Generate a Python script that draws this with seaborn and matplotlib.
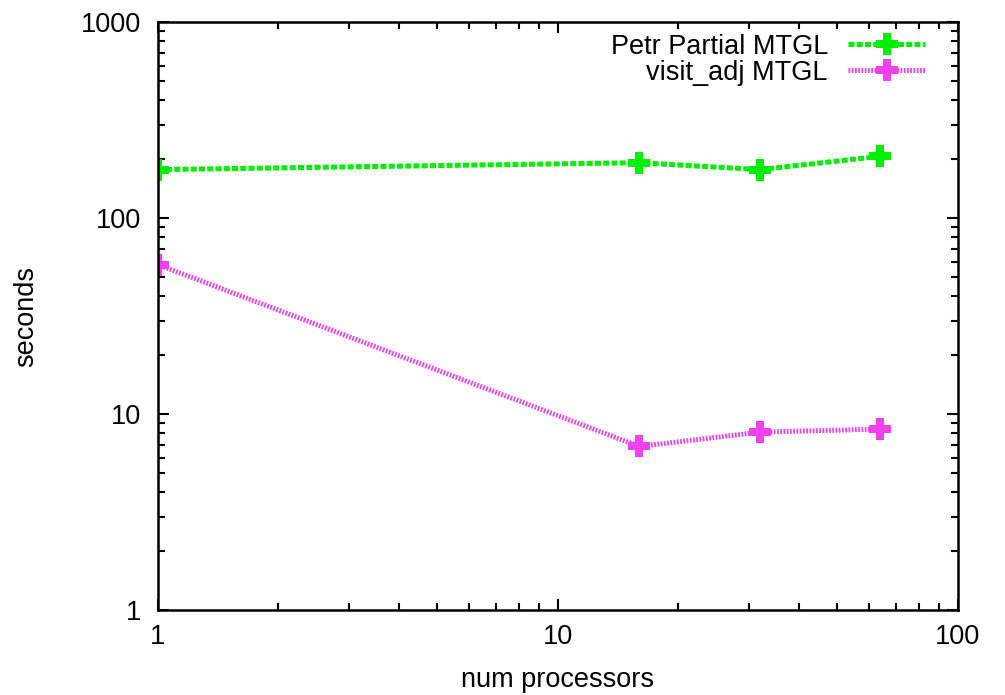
import numpy as np
import pandas as pd
import seaborn as sns
import matplotlib
matplotlib.use("Agg")
import matplotlib.pyplot as plt
from matplotlib.ticker import FuncFormatter

# values
processors = [1, 16, 32, 64]
petr_partial = [177, 192, 177, 207]
visit_adj = [58, 6.85, 8.1, 8.4]

sns.set_style("ticks")
plt.rcParams["font.family"] = ["Liberation Sans", "DejaVu Sans"]
plt.rcParams["text.color"] = "black"
plt.rcParams["axes.labelcolor"] = "black"
plt.rcParams["xtick.color"] = "black"
plt.rcParams["ytick.color"] = "black"
plt.rcParams["axes.edgecolor"] = "black"

df = pd.DataFrame({
    "num processors": processors * 2,
    "seconds": petr_partial + visit_adj,
    "series": ["Petr Partial MTGL"] * 4 + ["visit_adj MTGL"] * 4,
})

fig = plt.figure(figsize=(10.05, 6.95), dpi=100)
ax = fig.add_axes([0.157, 0.122, 0.796, 0.846])

styles = {
    "Petr Partial MTGL": ("#00ee00", (0, (1.2, 0.45))),
    "visit_adj MTGL": ("#f040f0", (0, (0.35, 0.3))),
}
for name, (color, ls) in styles.items():
    sub = df[df["series"] == name]
    sns.lineplot(data=sub, x="num processors", y="seconds", ax=ax, color=color,
                 linestyle=ls, linewidth=3.6, marker="P", markersize=16,
                 markeredgewidth=0, label=name)

ax.set_xscale("log")
ax.set_yscale("log")
ax.set_xlim(1, 100)
ax.set_ylim(1, 1000)
fmt = FuncFormatter(lambda v, p: f"{v:g}")
ax.xaxis.set_major_formatter(fmt)
ax.yaxis.set_major_formatter(fmt)
ax.tick_params(which="both", direction="in", top=True, right=True, labelsize=19.5, width=1.5)
ax.tick_params(which="major", length=8)
ax.tick_params(axis="y", which="major", pad=12)
ax.tick_params(axis="x", which="major", pad=10)
ax.tick_params(which="minor", length=5)
for s in ax.spines.values():
    s.set_linewidth(1.8)
ax.set_xlabel("num processors", fontsize=19.5, labelpad=12)
ax.set_ylabel("seconds", fontsize=19.5, labelpad=30)

leg = ax.legend(loc="upper right", bbox_to_anchor=(0.99, 1.022), frameon=False,
                markerfirst=False, fontsize=19.5, handlelength=2.85,
                labelspacing=0.0, handletextpad=0.75)

fig.savefig("out.png", dpi=100)
